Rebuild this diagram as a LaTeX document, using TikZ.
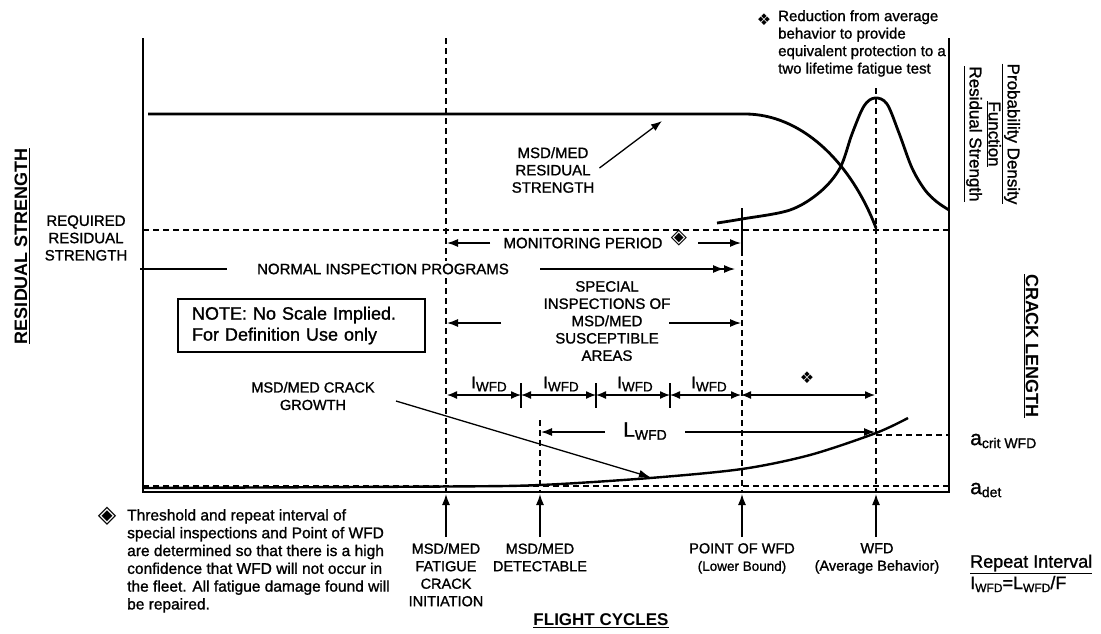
\documentclass[tikz,border=0pt]{standalone}
\usepackage{fontspec}
\setmainfont{Liberation Sans}[UprightFeatures={FakeBold=1.2}]
\newfontfamily\symfont{DejaVu Sans}
\usetikzlibrary{arrows.meta}
\newcommand\Iwfd{{\fontsize{17}{17}\selectfont I}\raisebox{-3pt}{\fontsize{13.5}{13.5}\selectfont WFD}}
\newcommand\Lwfd{{\fontsize{21}{21}\selectfont L}\raisebox{-3pt}{\fontsize{14}{14}\selectfont WFD}}
\begin{document}
\begin{tikzpicture}[x=1pt,y=-1pt,
  lbl/.style={font=\fontsize{15}{17.3}\selectfont, align=center, inner sep=0pt},
  blbl/.style={font=\fontsize{14.5}{17.5}\selectfont, align=center, inner sep=0pt},
  axisline/.style={line width=2pt, line join=miter},
  guide/.style={line width=1.5pt, dash pattern=on 6pt off 4pt},
  bigcurve/.style={line width=2.8pt},
  arr/.style={line width=1.3pt, -{Latex[length=11pt,width=8pt]}},
  darr/.style={line width=1.3pt, {Latex[length=10pt,width=8pt]}-{Latex[length=10pt,width=8pt]}},
  sepline/.style={line width=1.3pt},
  sym/.style={inner sep=0pt, font=\symfont\fontsize{13}{13}\selectfont},
]
\useasboundingbox (0,0) rectangle (1101,633);
\fill[white] (0,0) rectangle (1101,633);

% ---- axes
\coordinate (ytop) at (143,38);
\coordinate (orig) at (143,492);
\coordinate (xend) at (949,492);
\coordinate (rtop) at (949,38);
\draw[axisline] (ytop) -- (orig) -- (xend) -- (rtop);

% ---- horizontal guide lines
\coordinate (rrsL) at (143,230); \coordinate (rrsR) at (949,230);
\draw[guide] (rrsL) -- (rrsR);
\coordinate (adL) at (143,486); \coordinate (adR) at (949,486);
\draw[guide] (adL) -- (adR);
\coordinate (acL) at (876,435); \coordinate (acR) at (949,435);
\draw[guide] (acL) -- (acR);

% ---- vertical guide lines
\coordinate (v1t) at (446,38); \coordinate (v1b) at (446,492);
\draw[guide] (v1t) -- (v1b);
\coordinate (v2t) at (540,420); \coordinate (v2b) at (540,492);
\draw[guide] (v2t) -- (v2b);
\coordinate (v3s) at (742,208); \coordinate (v3t) at (742,250); \coordinate (v3b) at (742,492);
\draw[line width=1.5pt] (v3s) -- (v3t);
\draw[guide] (v3t) -- (v3b);
\coordinate (v4t) at (876,88); \coordinate (v4b) at (876,492);
\draw[guide] (v4t) -- (v4b);

% ---- residual strength curve
\draw[bigcurve] (148,114) -- (745,114) .. controls (800,114) and (850,160) .. (876,228);

% ---- probability density curve
\draw[bigcurve] plot[smooth, tension=0.55] coordinates {(717,223) (742,219) (790,210) (820,192) (840,168) (852,134) (864,106) (875,98) (887,104) (899,133) (912,168) (925,190) (937,202) (949,210)};

% ---- crack growth curve
\draw[line width=2.4pt] plot[smooth, tension=0.5] coordinates {(143,488) (446,486.5) (540,485) (650,478) (742,469) (810,455) (876,433) (908,418)};

% ---- normal inspection programs
\node[lbl, fill=white, inner xsep=4pt, inner ysep=3pt] (nip) at (383,269) {NORMAL INSPECTION PROGRAMS};
\coordinate (nipL) at (140,269); \coordinate (nipM) at (227,269);
\draw[sepline] (nipL) -- (nipM);
\coordinate (nipA) at (540,269); \coordinate (nipB) at (735,269);
\draw[line width=1.3pt, -{Latex[length=11pt,width=8pt]Latex[length=11pt,width=8pt]}] (nipA) -- (nipB);

% ---- monitoring period
\node[lbl] (mon) at (583,243) {MONITORING PERIOD};
\node[sym, font=\symfont\fontsize{21}{21}\selectfont] (mond) at (679,238) {◈};
\coordinate (monA) at (490,243); \coordinate (monL) at (447,243);
\coordinate (monB) at (698,243); \coordinate (monR) at (741,243);
\draw[arr] (monA) -- (monL);
\draw[arr] (monB) -- (monR);

% ---- special inspections
\node[lbl] (spec) at (607,321) {SPECIAL\\INSPECTIONS OF\\MSD/MED\\SUSCEPTIBLE\\AREAS};
\coordinate (spA) at (501,323); \coordinate (spL) at (447,323);
\coordinate (spB) at (669,323); \coordinate (spR) at (741,323);
\draw[arr] (spA) -- (spL);
\draw[arr] (spB) -- (spR);

% ---- I_WFD intervals
\coordinate (i0) at (447,395); \coordinate (i1) at (521,395);
\coordinate (i2) at (596,395); \coordinate (i3) at (670,395);
\coordinate (i4) at (741,395); \coordinate (i5) at (875,395);
\draw[darr] (i0) -- (i1);
\draw[darr] (i1) -- (i2);
\draw[darr] (i2) -- (i3);
\draw[darr] (i3) -- (i4);
\draw[darr] (i4) -- (i5);
\foreach \x in {521,596,670} { \draw[sepline] (\x,383) -- (\x,408); }
\node[inner sep=0pt] (iw1) at (489,384) {\Iwfd};
\node[inner sep=0pt] (iw2) at (561,384) {\Iwfd};
\node[inner sep=0pt] (iw3) at (635,384) {\Iwfd};
\node[inner sep=0pt] (iw4) at (709,384) {\Iwfd};
\node[sym, font=\symfont\fontsize{16}{16}\selectfont] (red) at (807,378) {❖};

% ---- L_WFD
\node[inner sep=0pt] (lw) at (645,431) {\Lwfd};
\coordinate (lwA) at (605,432); \coordinate (lwL) at (541,432);
\coordinate (lwB) at (685,432); \coordinate (lwR) at (875,432);
\draw[arr] (lwA) -- (lwL);
\draw[arr] (lwB) -- (lwR);

% ---- residual strength label
\node[lbl] (rsl) at (553,170) {MSD/MED\\RESIDUAL\\STRENGTH};
\coordinate (rsp) at (662,121);
\draw[arr] ([xshift=5pt,yshift=2pt]rsl.east) -- (rsp);

% ---- crack growth label
\node[lbl, font=\fontsize{14.5}{17.5}\selectfont] (cgl) at (313,396) {MSD/MED CRACK\\GROWTH};
\coordinate (cgA) at (396,401); \coordinate (cgp) at (650,477);
\draw[arr] (cgA) -- (cgp);

% ---- note box
\node[draw, line width=1.6pt, align=left, font=\fontsize{18}{21}\selectfont,
      text width=219pt, inner xsep=14pt, inner ysep=0pt, minimum height=53pt] (note) at (301.5,325.5)
      {NOTE: No Scale Implied.\\For Definition Use only};

% ---- left labels
\node[font=\bfseries\fontsize{18}{18}\selectfont, rotate=90, inner sep=0pt] (ylab) at (22,246) {\underline{RESIDUAL STRENGTH}};
\node[lbl] (rrs) at (86,238) {REQUIRED\\RESIDUAL\\STRENGTH};

% ---- right labels
\node[font=\fontsize{17}{19}\selectfont, rotate=-90, align=center, inner sep=0pt] (pdfl) at (992,134)
  {\underline{Probability Density}\\\underline{Function}\\\underline{Residual Strength}};
\node[font=\bfseries\fontsize{18}{18}\selectfont, rotate=-90, inner sep=0pt] (ylab2) at (1031,346) {\underline{CRACK LENGTH}};
\node[anchor=west, inner sep=0pt] (acrit) at (970,441) {{\fontsize{21}{21}\selectfont a}\raisebox{-3pt}{\fontsize{14}{14}\selectfont crit WFD}};
\node[anchor=west, inner sep=0pt] (adet) at (970,490) {{\fontsize{21}{21}\selectfont a}\raisebox{-3pt}{\fontsize{14}{14}\selectfont det}};

% ---- reduction note
\node[sym, font=\symfont\fontsize{16}{16}\selectfont] (redn) at (764,20) {❖};
\node[anchor=north west, align=left, inner sep=0pt, font=\fontsize{15}{17.5}\selectfont] (redt) at (778,10)
  {Reduction from average\\behavior to provide\\equivalent protection to a\\two lifetime fatigue test};

% ---- footnote
\node[sym, font=\symfont\fontsize{24}{24}\selectfont] (fnd) at (107,516) {◈};
\node[anchor=north west, align=left, inner sep=0pt, font=\fontsize{15.5}{17.8}\selectfont] (fnt) at (127,509)
  {Threshold and repeat interval of\\special inspections and Point of WFD\\are determined so that there is a high\\confidence that WFD will not occur in\\the fleet. All fatigue damage found will\\be repaired.};

% ---- bottom labels and arrows
\node[blbl, anchor=north] (init) at (446,543) {MSD/MED\\FATIGUE\\CRACK\\INITIATION};
\node[blbl, anchor=north] (detl) at (540,543) {MSD/MED\\DETECTABLE};
\node[blbl, anchor=north] (pwfd) at (742,543) {POINT OF WFD\\{\fontsize{13.5}{13.5}\selectfont (Lower Bound)}};
\node[blbl, anchor=north] (wfdl) at (877,543) {WFD\\(Average Behavior)};
\coordinate (x1) at (446,494); \coordinate (x2) at (540,494);
\coordinate (x3) at (742,494); \coordinate (x4) at (876,494);
\draw[arr] ([yshift=6pt]init.north) -- (x1);
\draw[arr] ([yshift=6pt]detl.north) -- (x2);
\draw[arr] ([yshift=6pt]pwfd.north) -- (x3);
\draw[arr] ([yshift=6pt]wfdl.north -| x4) -- (x4);

% ---- repeat interval
\node[anchor=west, inner sep=0pt, font=\fontsize{18}{18}\selectfont] (rep) at (970,564) {\underline{Repeat Interval}};
\node[anchor=west, inner sep=0pt, font=\fontsize{18}{18}\selectfont] (repf) at (970,584)
  {I\raisebox{-3pt}{\fontsize{12}{12}\selectfont WFD}=L\raisebox{-3pt}{\fontsize{12}{12}\selectfont WFD}/F};

% ---- x axis label
\node[font=\bfseries\fontsize{17}{17}\selectfont, inner sep=0pt] (xlab) at (601,621) {\underline{FLIGHT CYCLES}};
\end{tikzpicture}
\end{document}
